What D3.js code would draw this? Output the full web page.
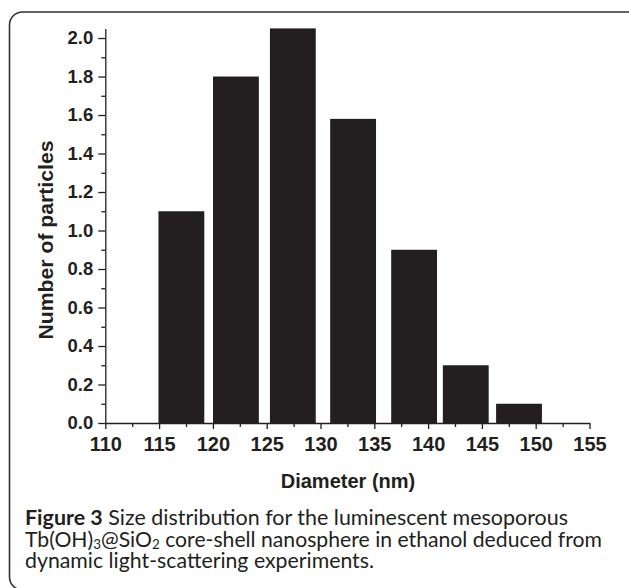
<!DOCTYPE html>
<meta charset="utf-8">
<style>
body { margin: 0; background: #fff; }
svg { display: block; }
.tick text { font-family: "Liberation Sans", Arial, sans-serif; font-weight: bold; fill: #231f20; }
.axis path, .axis line { stroke: #231f20; stroke-width: 1.3px; }
.title { font-family: "Liberation Sans", Arial, sans-serif; font-weight: bold; font-size: 20px; fill: #231f20; }
.caption { font-family: Lato, "Open Sans", sans-serif; font-size: 20.5px; fill: #231f20; }
</style>
<body>
<svg width="629" height="588"></svg>
<script src="https://d3js.org/d3.v7.min.js"></script>
<script>

// bin centres (nm) and counts
var diameters = [117.07, 122.14, 127.43, 133.03, 138.7, 143.5, 148.45];
var counts = [1.1, 1.8, 2.05, 1.58, 0.9, 0.3, 0.1];
var binWidth = 4.26;

var xTicks = [110, 115, 120, 125, 130, 135, 140, 145, 150, 155];
var yTicks = [0, 0.2, 0.4, 0.6, 0.8, 1.0, 1.2, 1.4, 1.6, 1.8, 2.0];

var captionLines = [
  [{t: "Figure 3", b: true}, {t: " Size distribution for the luminescent mesoporous"}],
  [{t: "Tb(OH)"}, {t: "3", sub: true}, {t: "@SiO"}, {t: "2", sub: true}, {t: " core-shell nanosphere in ethanol deduced from"}],
  [{t: "dynamic light-scattering experiments."}]
];
var captionEnds = [568, 602, 374];

var svg = d3.select("svg");

// rounded frame
svg.append("rect")
    .attr("x", 9.5).attr("y", 12)
    .attr("width", 632).attr("height", 578)
    .attr("rx", 13)
    .attr("fill", "none")
    .attr("stroke", "#333")
    .attr("stroke-width", 1.6);

var x = d3.scaleLinear().domain([110, 155]).range([105.3, 589.5]);
var y = d3.scaleLinear().domain([0, 2.05]).range([423, 28.4]);

// bars
svg.append("g")
  .selectAll("rect")
  .data(diameters)
  .enter().append("rect")
    .attr("x", function(d) { return x(d - binWidth / 2); })
    .attr("width", function(d) { return x(d + binWidth / 2) - x(d - binWidth / 2); })
    .attr("y", function(d, i) { return y(counts[i]); })
    .attr("height", function(d, i) { return y(0) - y(counts[i]); })
    .attr("fill", "#231f20");

// minor ticks first
svg.append("g")
    .attr("class", "axis")
    .attr("transform", "translate(0," + y(0) + ")")
    .call(d3.axisBottom(x).tickValues(d3.range(112.5, 155, 5)).tickSize(4).tickFormat(""))
    .select(".domain").remove();

svg.append("g")
    .attr("class", "axis")
    .attr("transform", "translate(" + x(110) + ",0)")
    .call(d3.axisLeft(y).tickValues(d3.range(0.1, 2.0, 0.2)).tickSize(4).tickFormat(""))
    .select(".domain").remove();

// major axes
var xAxis = svg.append("g")
    .attr("class", "axis")
    .attr("transform", "translate(0," + y(0) + ")")
    .call(d3.axisBottom(x).tickValues(xTicks).tickSize(6).tickSizeOuter(0).tickPadding(8).tickFormat(d3.format("d")));
xAxis.selectAll("text").style("font-size", "20px");

var yAxis = svg.append("g")
    .attr("class", "axis")
    .attr("transform", "translate(" + x(110) + ",0)")
    .call(d3.axisLeft(y).tickValues(yTicks).tickSize(7).tickSizeOuter(0).tickPadding(5).tickFormat(d3.format(".1f")));
yAxis.selectAll("text").style("font-size", "18.5px");

// axis titles
svg.append("text")
    .attr("class", "title")
    .attr("x", 348).attr("y", 488)
    .attr("text-anchor", "middle")
    .text("Diameter (nm)");

svg.append("text")
    .attr("class", "title")
    .attr("transform", "translate(53,240) rotate(-90)")
    .attr("text-anchor", "middle")
    .attr("textLength", 199)
    .attr("lengthAdjust", "spacingAndGlyphs")
    .text("Number of particles");

// caption
captionLines.forEach(function(line, i) {
  var t = svg.append("text")
      .attr("class", "caption")
      .attr("x", 25)
      .attr("y", 525 + i * 21.7)
      .attr("textLength", captionEnds[i] - 25)
      .attr("lengthAdjust", "spacingAndGlyphs");
  line.forEach(function(p, j) {
    var s = t.append("tspan").text(p.t);
    if (p.b) s.style("font-weight", "bold");
    if (p.sub) s.attr("dy", 2.5).style("font-size", "13px");
    else if (j > 0 && line[j - 1].sub) s.attr("dy", -2.5);
  });
});

</script>
</body>
